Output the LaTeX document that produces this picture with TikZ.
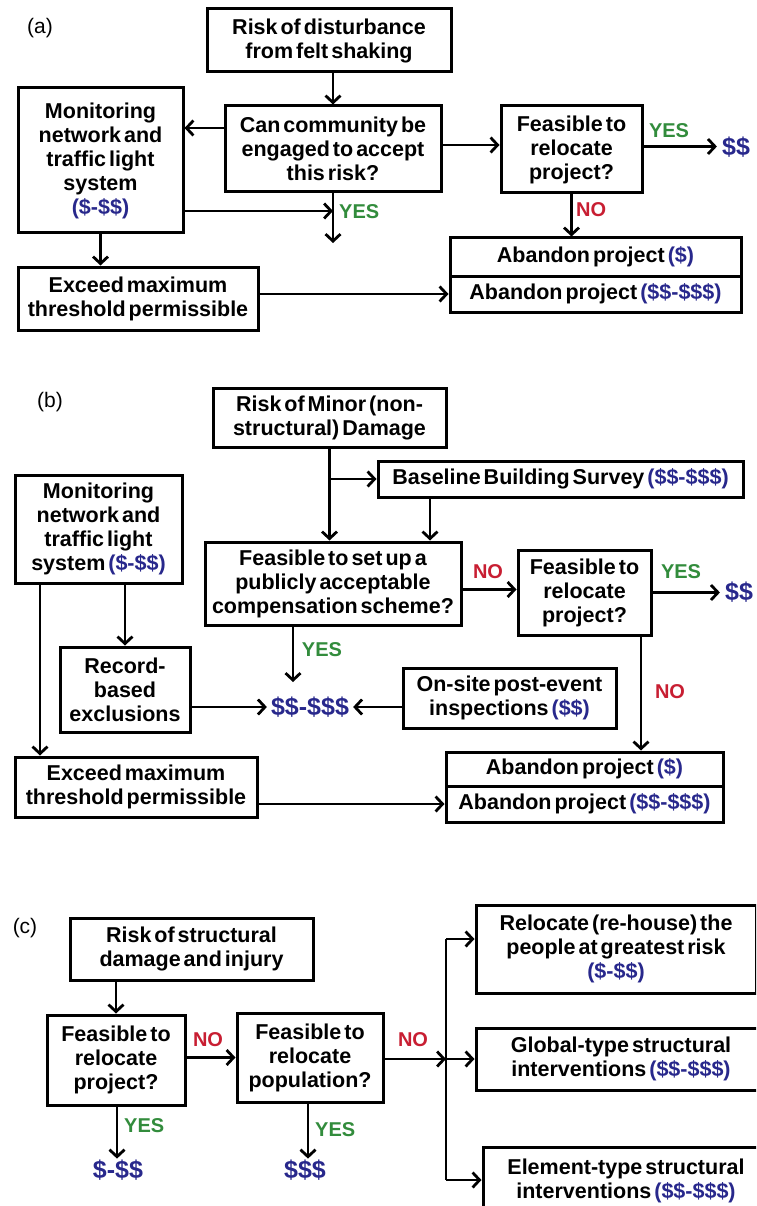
\documentclass[tikz,border=0pt]{standalone}
\usepackage{fontspec}
\setmainfont{Liberation Sans}[WordSpace=0.5]
\usetikzlibrary{arrows.meta}
\definecolor{dblue}{RGB}{40,40,140}
\definecolor{dgreen}{RGB}{50,140,60}
\definecolor{dred}{RGB}{200,30,50}
\newcommand{\bl}[1]{\textcolor{dblue}{#1}}
\tikzset{
  box/.style={draw, line width=3pt, align=center, inner sep=0pt,
    font=\fontsize{21.5}{24}\selectfont\bfseries},
  arr/.style={line width=2.8pt, -{Straight Barb[length=7pt,width=15pt]}},
  ln/.style={line width=2.8pt},
  money/.style={text=dblue, inner sep=1pt, font=\fontsize{25}{27}\selectfont\bfseries},
  yes/.style={text=dgreen, inner sep=1pt, font=\fontsize{20}{22}\selectfont\bfseries},
  no/.style={text=dred, inner sep=1pt, font=\fontsize{20}{22}\selectfont\bfseries},
  plab/.style={inner sep=0pt, font=\fontsize{21}{23}\selectfont}
}
\begin{document}
\begin{tikzpicture}[x=1pt,y=-1pt]
\useasboundingbox (0,0) rectangle (756,1206);
\clip (0,0) rectangle (756,1206);
\fill[white] (0,0) rectangle (756,1206);

% ---------------- (a)
\node[plab] (la) at (40,28) {(a)};
\node[box, minimum width=244, minimum height=63] (ra) at (329,40.5) {Risk of disturbance\\from felt shaking};
\node[box, minimum width=216, minimum height=86] (qa) at (333,149) {Can community be\\engaged to accept\\this risk?};
\node[box, minimum width=165, minimum height=145] (ma) at (100.5,160.5) {Monitoring\\network and\\traffic light\\system\\\bl{(\$-\$\$)}};
\node[box, minimum width=240, minimum height=63] (ea) at (138,298.5) {Exceed maximum\\threshold permissible};
\node[box, minimum width=141, minimum height=87] (fa) at (571.5,149.5) {Feasible to\\relocate\\project?};
\node[box, minimum width=291, minimum height=38] (aa1) at (595.5,257) {Abandon project \bl{(\$)}};
\node[box, minimum width=291, minimum height=36] (aa2) at (595.5,294) {Abandon project \bl{(\$\$-\$\$\$)}};
\node[money] (da) at (736,147) {\$\$};
\coordinate (ja) at (333,211);
\coordinate (ya) at (333,243);

\draw[arr] (qa.north |- ra.south) -- (qa.north);
\draw[arr] ([yshift=21pt]qa.west) -- ([yshift=21pt]qa.west -| ma.east);
\draw[arr] (qa.south) -- (ya);
\draw[arr] (ma.east |- ja) -- (ja);
\node[yes, anchor=west] (yesa1) at (338,212) {YES};
\draw[arr] (ma.south) -- (ma.south |- ea.north);
\draw[arr] (aa2.west -| ea.east) -- (aa2.west);
\draw[arr] ([yshift=4pt]qa.east) -- ([yshift=4pt]qa.east -| fa.west);
\draw[arr] ([yshift=3pt]fa.east) -- ([yshift=3pt,xshift=-4pt]fa.east -| da.west);
\node[yes] (yesa2) at (669,131) {YES};
\draw[arr] (fa.south) -- (fa.south |- aa1.north);
\node[no, anchor=west] (noa) at (575,210) {NO};

% ---------------- (b)
\node[plab] (lb) at (50,402) {(b)};
\node[box, minimum width=233, minimum height=59] (rb) at (329.5,417.5) {Risk of Minor (non-\\structural) Damage};
\node[box, minimum width=365, minimum height=36] (bb) at (560.5,479) {Baseline Building Survey \bl{(\$\$-\$\$\$)}};
\node[box, minimum width=256, minimum height=83] (fb) at (333,583.5) {Feasible to set up a\\publicly acceptable\\compensation scheme?};
\node[box, minimum width=133, minimum height=85] (f3) at (584.5,592.5) {Feasible to\\relocate\\project?};
\node[box, minimum width=277, minimum height=34] (ab1) at (584.5,769) {Abandon project \bl{(\$)}};
\node[box, minimum width=277, minimum height=36] (ab2) at (584.5,804) {Abandon project \bl{(\$\$-\$\$\$)}};
\node[box, minimum width=167, minimum height=108] (mb) at (98.5,529) {Monitoring\\network and\\traffic light\\system \bl{(\$-\$\$)}};
\node[box, minimum width=130, minimum height=85] (rec) at (125,689.5) {Record-\\based\\exclusions};
\node[box, minimum width=242, minimum height=60] (eb) at (136,787) {Exceed maximum\\threshold permissible};
\node[box, minimum width=213, minimum height=60] (on) at (509.5,698) {On-site post-event\\inspections \bl{(\$\$)}};
\node[money] (mB) at (310,707) {\$\$-\$\$\$};
\node[money] (dB) at (739,592) {\$\$};
\coordinate (yb) at (293,682);
\coordinate (xb) at (430,0);
\coordinate (xm1) at (40,0);

\draw[arr] (rb.south) -- (rb.south |- fb.north);
\draw[arr] (rb.south |- bb.west) -- (bb.west);
\draw[arr] (bb.south -| xb) -- (fb.north -| xb);
\draw[arr] ([yshift=-6pt]fb.east) -- ([yshift=-6pt]fb.east -| f3.west);
\node[no] (nob1) at (488,572) {NO};
\draw[arr] (f3.east) -- ([xshift=-4pt]f3.east -| dB.west);
\node[yes] (yesb1) at (681,572) {YES};
\draw[arr] ([xshift=56.5pt]f3.south) -- ([xshift=56.5pt]f3.south |- ab1.north);
\node[no] (nob2) at (670,692) {NO};
\draw[arr] (mb.south -| xm1) -- (eb.north -| xm1);
\draw[arr] (mb.south -| rec.north) -- (rec.north);
\draw[arr] (mB.west -| rec.east) -- ([xshift=-3pt]mB.west);
\draw[arr] (fb.south -| yb) -- (yb);
\node[yes] (yesb2) at (322,650) {YES};
\draw[arr] (on.west |- mB.east) -- ([xshift=3pt]mB.east);
\draw[arr] (ab2.west -| eb.east) -- (ab2.west);

% ---------------- (c)
\node[plab] (lc) at (25,928) {(c)};
\node[box, minimum width=243, minimum height=62] (rc) at (191.5,949) {Risk of structural\\damage and injury};
\node[box, minimum width=138, minimum height=90] (f4) at (116,1060) {Feasible to\\relocate\\project?};
\node[box, minimum width=146, minimum height=89] (f5) at (310,1057.5) {Feasible to\\relocate\\population?};
\node[box, minimum width=280, minimum height=88] (rel) at (616,949) {Relocate (re-house) the\\people at greatest risk\\\bl{(\$-\$\$)}};
\node[box, minimum width=290, minimum height=62] (gl) at (621,1059) {Global-type structural\\interventions \bl{(\$\$-\$\$\$)}};
\node[box, minimum width=286, minimum height=68] (el) at (626,1181) {Element-type structural\\interventions \bl{(\$\$-\$\$\$)}};
\node[money] (mc1) at (118,1170) {\$-\$\$};
\node[money] (mc2) at (305,1170) {\$\$\$};
\coordinate (jc) at (446,1059);
\coordinate (jt) at (446,939);
\coordinate (jb) at (446,1180);

\draw[arr] (rc.south -| f4.north) -- (f4.north);
\draw[arr] (f4.east |- f5.west) -- (f5.west);
\node[no] (noc1) at (208,1040) {NO};
\draw[arr] ([xshift=1pt]f4.south) -- ([xshift=1pt]f4.south |- mc1.north);
\node[yes, anchor=west] (yesc1) at (123,1126) {YES};
\draw[arr] ([xshift=-2pt]f5.south) -- ([xshift=-2pt]f5.south |- mc2.north);
\node[yes, anchor=west] (yesc2) at (314,1130) {YES};
\draw[arr] (f5.east |- jc) -- (jc);
\node[no] (noc2) at (413,1040) {NO};
\draw[ln] (jt) -- (jb);
\draw[arr] (jt) -- (jt -| rel.west);
\draw[arr] (jc) -- (gl.west);
\draw[arr] (jb) -- (jb -| el.west);
\end{tikzpicture}
\end{document}
